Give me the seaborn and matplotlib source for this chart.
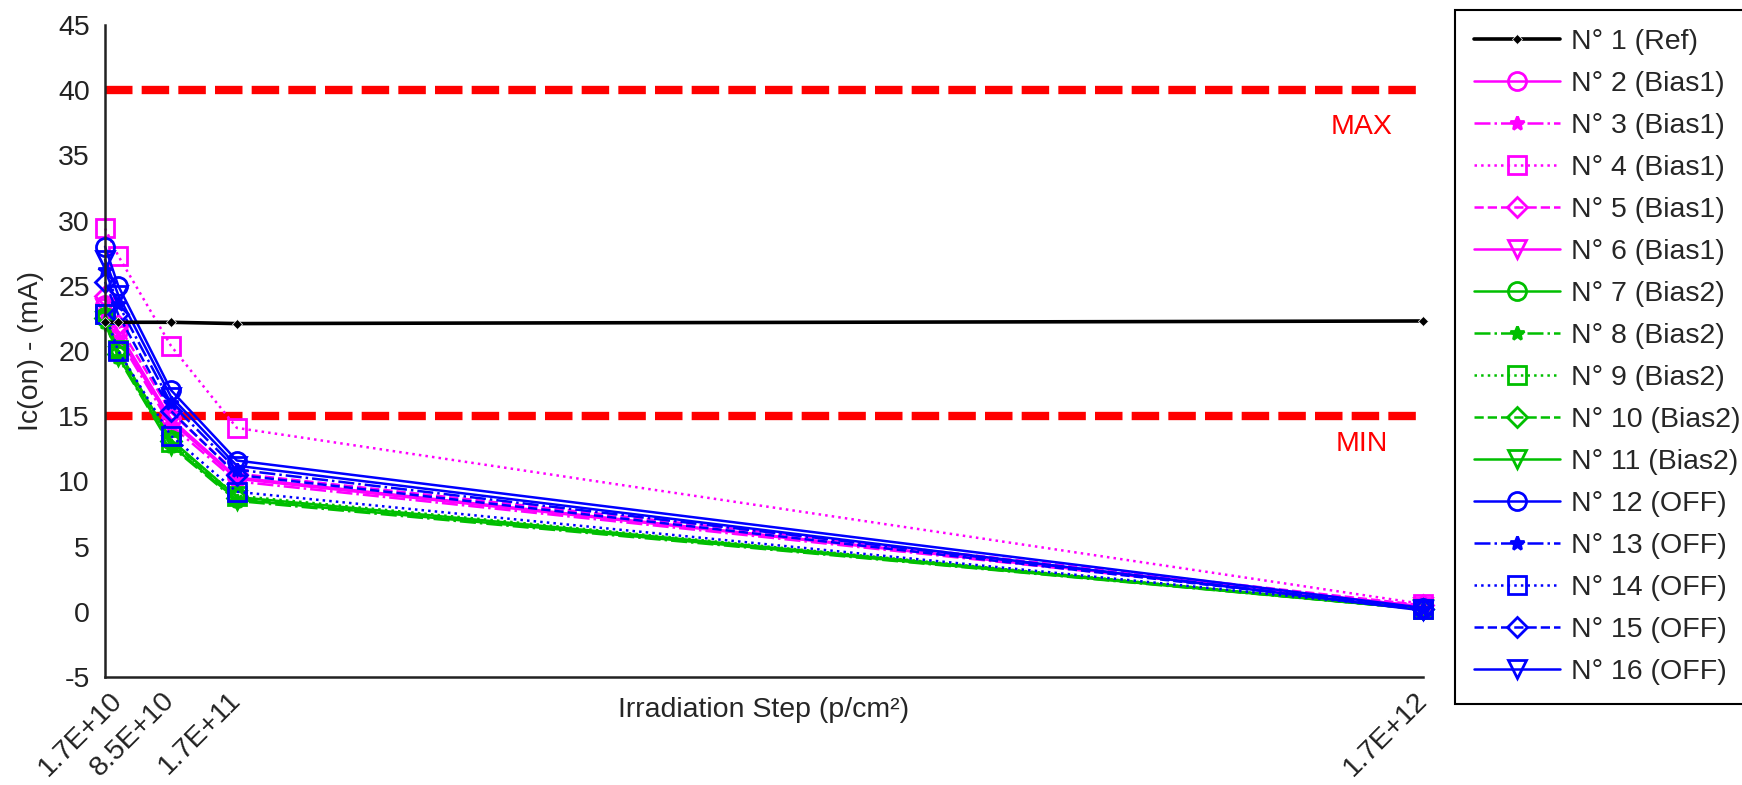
import matplotlib
matplotlib.use("Agg")
import matplotlib.pyplot as plt
import seaborn as sns
import pandas as pd

# irradiation steps (p/cm2), first point is the pre-irradiation measure
steps = [0, 1.7e10, 8.5e10, 1.7e11, 1.7e12]
tick_pos = [1.7e10, 8.5e10, 1.7e11, 1.7e12]
tick_labels = ["1.7E+10", "8.5E+10", "1.7E+11", "1.7E+12"]

labels = ["N° 1 (Ref)",
          "N° 2 (Bias1)", "N° 3 (Bias1)", "N° 4 (Bias1)", "N° 5 (Bias1)", "N° 6 (Bias1)",
          "N° 7 (Bias2)", "N° 8 (Bias2)", "N° 9 (Bias2)", "N° 10 (Bias2)", "N° 11 (Bias2)",
          "N° 12 (OFF)", "N° 13 (OFF)", "N° 14 (OFF)", "N° 15 (OFF)", "N° 16 (OFF)"]

ic_on = [
    [22.2, 22.2, 22.2, 22.1, 22.3],
    [23.5, 21.5, 14.8, 10.3, 0.4],
    [23.0, 21.0, 14.3, 10.0, 0.4],
    [29.4, 27.3, 20.4, 14.1, 0.6],
    [24.2, 22.0, 15.3, 10.6, 0.5],
    [23.3, 21.2, 14.6, 10.2, 0.4],
    [22.6, 20.0, 13.2, 8.8, 0.2],
    [22.2, 19.5, 12.7, 8.5, 0.2],
    [22.8, 20.1, 13.0, 8.9, 0.2],
    [22.5, 19.8, 13.1, 8.7, 0.2],
    [22.3, 19.6, 12.8, 8.6, 0.2],
    [28.0, 25.0, 17.0, 11.6, 0.3],
    [26.2, 23.6, 16.0, 10.9, 0.2],
    [22.8, 20.0, 13.5, 9.2, 0.2],
    [25.3, 22.8, 15.4, 10.5, 0.2],
    [27.0, 24.3, 16.5, 11.2, 0.1],
]

limit_max = 40
limit_min = 15

group_colors = {"Ref": "black", "Bias1": "#FF00FF", "Bias2": "#00BF00", "OFF": "#0000FF"}
styles = [("-", "o"), ("-.", "*"), (":", "s"), ("--", "D"), ("-", "v")]

FS = 20.5

sns.set_style("white")
plt.rcParams["font.family"] = ["Liberation Sans", "DejaVu Sans"]
plt.rcParams["axes.unicode_minus"] = False

fig = plt.figure(figsize=(17.42, 7.85), dpi=100)
ax = fig.add_axes([0.0603, 0.1376, 0.7566, 0.8306])

ax.axhline(limit_max, color="red", lw=6, dashes=(3.3, 1.1), zorder=1)
ax.axhline(limit_min, color="red", lw=6, dashes=(3.3, 1.1), zorder=1)

for i, (lab, vals) in enumerate(zip(labels, ic_on)):
    group = lab.split("(")[1].rstrip(")")
    df = pd.DataFrame({"step": steps, "ic": vals})
    if i == 0:
        sns.lineplot(data=df, x="step", y="ic", ax=ax, color="black", lw=2.6,
                     marker="D", markersize=5, markeredgewidth=0.5,
                     label=lab, zorder=3, clip_on=False)
    else:
        ls, mk = styles[(i - 1) % 5]
        ms = 13 if mk in ("o", "s", "v") else 10
        sns.lineplot(data=df, x="step", y="ic", ax=ax, color=group_colors[group],
                     linestyle=ls, lw=1.8, marker=mk, markersize=ms,
                     markerfacecolor="none" if mk != "*" else group_colors[group],
                     markeredgecolor=group_colors[group], markeredgewidth=2,
                     label=lab, zorder=2, clip_on=False)

ax.text(1.621e12, 37.2, "MAX", color="red", fontsize=FS, ha="center", va="center")
ax.text(1.621e12, 12.9, "MIN", color="red", fontsize=FS, ha="center", va="center")

ax.set_xlim(0, 1.7e12)
ax.set_ylim(-5, 45)
ax.set_yticks(range(-5, 46, 5))
ax.set_xticks(tick_pos)
ax.set_xticklabels(tick_labels, rotation=45, ha="right", va="center",
                   rotation_mode="anchor")
ax.tick_params(direction="in", length=8, width=1.5, labelsize=FS, colors="#222222")
ax.tick_params(axis="y", pad=11)
ax.tick_params(axis="x", pad=14)
for side in ("top", "right"):
    ax.spines[side].set_visible(False)
for side in ("left", "bottom"):
    ax.spines[side].set_color("#222222")
    ax.spines[side].set_linewidth(1.8)

ax.set_xlabel("Irradiation Step (p/cm²)", fontsize=FS)
ax.xaxis.set_label_coords(0.5, -0.05)
ax.xaxis.label.set_va("center")
ax.set_ylabel("Ic(on) - (mA)", fontsize=FS)
ax.yaxis.set_label_coords(-0.056, 0.5)
ax.yaxis.label.set_va("center")

leg = ax.legend(loc="upper left", bbox_to_anchor=(1455 / 1742, 1 - 10 / 785),
                bbox_transform=fig.transFigure, fontsize=FS, frameon=True,
                fancybox=False, framealpha=1, edgecolor="black", handlelength=3.0,
                labelspacing=0.56, borderpad=0.68, handletextpad=0.4, borderaxespad=0)
leg.get_frame().set_linewidth(1.5)

fig.savefig("out.png", dpi=100)
